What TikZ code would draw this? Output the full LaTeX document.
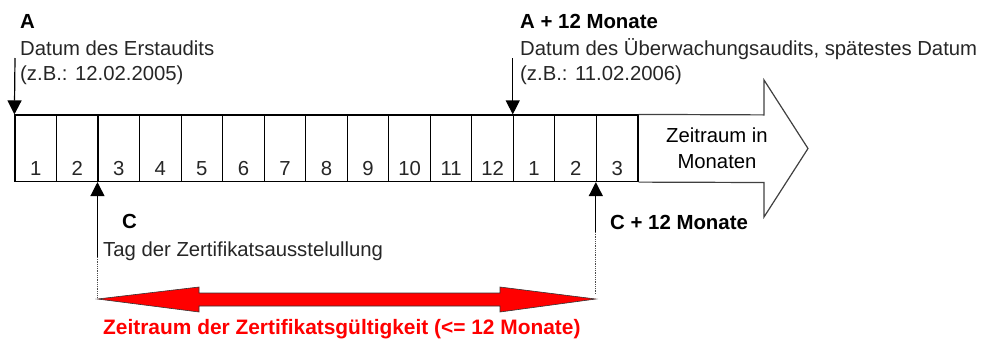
\documentclass[tikz,border=0pt]{standalone}
\usepackage{fontspec}
\setmainfont{Liberation Sans}
\usetikzlibrary{arrows.meta}
\begin{document}
\begin{tikzpicture}[x=1pt,y=-1pt,
  every node/.style={font=\fontsize{20.3}{24}\selectfont, inner sep=0pt},
  cell/.style={draw=black, line width=1.2pt, minimum width=41.53pt, minimum height=66.5pt, anchor=center},
  num/.style={anchor=base, text=black!85},
  txt/.style={anchor=base west, text=black!85},
  head/.style={anchor=base west, font=\fontsize{20.4}{24}\selectfont\bfseries},
  pointer/.style={line width=1.2pt, -{Triangle[width=14pt,length=14pt]}},
  guide/.style={line width=0.8pt, densely dotted, black!70},
  outline/.style={draw=black!75, line width=1.2pt}
]
\useasboundingbox (0,0) rectangle (982,338);

% month cells along the time line
\foreach \n [count=\i] in {1,2,3,4,5,6,7,8,9,10,11,12,1,2,3} {
  \node[cell] (c\i) at ({15+41.53*(\i-0.5)},148.25) {};
  \node[num] at ([yshift=6.5pt]c\i.south) {\n};
}

% open arrow continuing the time line
\draw[outline] (c15.north east) -- (764,114.9) -- (764,80) -- (808,148.5)
  -- (764,217) -- (764,182.5) -- (c15.south east);
\node[anchor=base] (zr1) at (717,142) {Zeitraum in};
\node[anchor=base] (zr2) at (717,168) {Monaten};

% A: first audit
\coordinate (pa) at (15,58);
\draw[pointer] (pa) -- (c1.north west);
\node[head] (la) at (20,28) {A};
\node[txt] (ta1) at (20,55) {Datum des Erstaudits};
\node[txt] (ta2) at (20,80) {(z.B.: 12.02.2005)};

% A + 12 months: surveillance audit
\coordinate (pb) at (c13.north west |- 0,58);
\draw[pointer] (pb) -- (c13.north west);
\node[head] (lb) at (520,28) {A + 12 Monate};
\node[txt] (tb1) at (520,55) {Datum des Überwachungsaudits, spätestes Datum};
\node[txt] (tb2) at (520,80) {(z.B.: 11.02.2006)};

% C: certificate issue date
\coordinate (pc) at (c3.south west |- 0,257);
\coordinate (pcd) at (c3.south west |- 0,298);
\draw[pointer] (pc) -- (c3.south west);
\draw[guide] (pc) -- (pcd);
\node[head] (lc) at (122,228) {C};
\node[txt] (tc) at (103,256) {Tag der Zertifikatsausstelullung};

% C + 12 months
\coordinate (pd) at (c15.south west |- 0,232);
\coordinate (pdd) at (c15.south west |- 0,294);
\draw[pointer] (pd) -- (c15.south west);
\draw[guide] (pd) -- (pdd);
\node[head] (ld) at (610,229) {C + 12 Monate};

% validity period
\fill[red, draw=black!80, line width=0.6pt]
  (pcd |- 0,299) -- (199,287) -- (199,293) -- (500,293) -- (500,287)
  -- (pdd |- 0,299) -- (500,312) -- (500,306) -- (199,306) -- (199,312) -- cycle;
\node[head, text=red, font=\fontsize{20.9}{24}\selectfont\bfseries] (lv) at (103,334) {Zeitraum der Zertifikatsgültigkeit (<= 12 Monate)};
\end{tikzpicture}
\end{document}
